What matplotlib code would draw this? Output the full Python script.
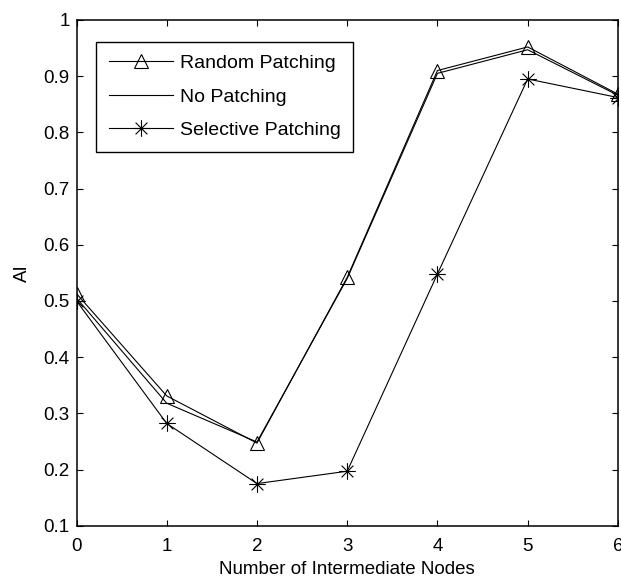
import numpy as np
import matplotlib
matplotlib.use("Agg")
import matplotlib.pyplot as plt
from matplotlib.path import Path

# Data
nodes = [0, 1, 2, 3, 4, 5, 6]
random_patching = [0.513, 0.331, 0.247, 0.542, 0.910, 0.952, 0.868]
no_patching = [0.505, 0.318, 0.249, 0.540, 0.905, 0.947, 0.866]
selective_patching = [0.500, 0.282, 0.175, 0.197, 0.548, 0.895, 0.862]
labels = ["Random Patching", "No Patching", "Selective Patching"]
x_ticks = [0, 1, 2, 3, 4, 5, 6]
y_ticks = [0.1, 0.2, 0.3, 0.4, 0.5, 0.6, 0.7, 0.8, 0.9, 1.0]

plt.rcParams["font.family"] = ["Liberation Sans", "DejaVu Sans"]

# Asterisk marker (plus and cross overlaid)
d = 0.7071
asterisk = Path(
    [(-1, 0), (1, 0), (0, -1), (0, 1), (-d, -d), (d, d), (-d, d), (d, -d)],
    [Path.MOVETO, Path.LINETO] * 4,
)

fig = plt.figure(figsize=(6.21, 5.79), dpi=100)
ax = fig.add_axes([0.1232, 0.092, 0.8718, 0.8735])

lw = 0.8
ax.plot(nodes, random_patching, color="black", lw=lw, marker="^", ms=10,
        mfc="none", mec="black", mew=0.8, label=labels[0])
ax.plot(nodes, no_patching, color="black", lw=lw, label=labels[1])
ax.plot(nodes, selective_patching, color="black", lw=lw, marker=asterisk,
        ms=12, mec="black", mew=0.8, label=labels[2])

ax.set_xlim(0, 6)
ax.set_ylim(0.1, 1.0)
ax.set_xticks(x_ticks)
ax.set_xticklabels([f"{v:g}" for v in x_ticks])
ax.set_yticks(y_ticks)
ax.set_yticklabels([f"{v:g}" for v in y_ticks])

fs = 13.5
ax.tick_params(axis="both", direction="in", length=4, width=0.8,
               top=True, right=True, labelsize=fs)
ax.tick_params(axis="x", pad=9)
ax.tick_params(axis="y", pad=5)
for s in ax.spines.values():
    s.set_linewidth(1.1)

ax.set_xlabel("Number of Intermediate Nodes", fontsize=fs, labelpad=4)
ax.set_ylabel("AI", fontsize=fs, labelpad=9)

leg = ax.legend(loc="upper left", bbox_to_anchor=(0.036, 0.957),
                borderaxespad=0, fontsize=14, handlelength=3.3,
                handletextpad=0.35, labelspacing=0.82, borderpad=0.65,
                fancybox=False, framealpha=1, edgecolor="black")
leg.get_frame().set_linewidth(1.0)

fig.savefig("out.png", dpi=100)
